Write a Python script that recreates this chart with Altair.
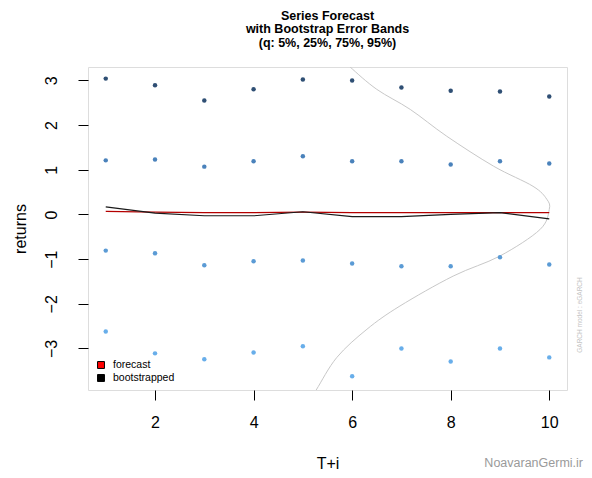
import altair as alt
import pandas as pd

# ---- data ----
steps = [1, 2, 3, 4, 5, 6, 7, 8, 9, 10]
q95 = [3.04, 2.89, 2.55, 2.80, 3.02, 3.00, 2.84, 2.77, 2.75, 2.64]
q75 = [1.21, 1.23, 1.07, 1.19, 1.30, 1.19, 1.19, 1.12, 1.19, 1.14]
q25 = [-0.81, -0.87, -1.14, -1.05, -1.03, -1.10, -1.16, -1.16, -0.96, -1.12]
q05 = [-2.62, -3.11, -3.24, -3.09, -2.95, -3.62, -3.00, -3.29, -3.00, -3.20]
forecast = [0.07, 0.05, 0.04, 0.04, 0.05, 0.04, 0.04, 0.04, 0.04, 0.04]
bootstrapped = [0.17, 0.03, -0.03, -0.03, 0.06, -0.05, -0.05, 0.00, 0.04, -0.10]

dens_y = [-4.3, -3.93, -3.2, -2.57, -2.05, -1.38, -0.93, -0.34, 0.11, 0.34, 0.63, 1.08, 1.75, 2.35, 2.80, 3.30, 3.6]
dens_x = [5.05, 5.27, 5.69, 6.30, 6.97, 8.05, 9.00, 9.81, 10.0, 9.95, 9.67, 8.87, 7.92, 7.18, 6.50, 5.96, 5.7]

quant_names = ["q95", "q75", "q25", "q05"]
quant_colors = ["#2f4f74", "#4a82bb", "#5b9bd5", "#68aeea"]
series_names = ["forecast", "bootstrapped"]
series_line_colors = ["#b40000", "#1a1a1a"]
series_legend_fills = ["#ff0000", "#000000"]

title_lines = ["Series Forecast", "with Bootstrap Error Bands", "(q: 5%, 25%, 75%, 95%)"]

# ---- tables ----
qdf = pd.DataFrame(
    [{"t": t, "v": v, "q": name}
     for name, vals in zip(quant_names, [q95, q75, q25, q05])
     for t, v in zip(steps, vals)]
)
sdf = pd.DataFrame(
    [{"t": t, "v": v, "s": name}
     for name, vals in zip(series_names, [forecast, bootstrapped])
     for t, v in zip(steps, vals)]
)
ddf = pd.DataFrame({"dx": dens_x, "dy": dens_y, "i": list(range(len(dens_x)))})

W, H = 479, 323
xs = alt.Scale(domain=[0.64, 10.36], nice=False, zero=False)
ys = alt.Scale(domain=[-3.93, 3.30], nice=False, zero=False)

FONT = "Liberation Sans"

xaxis = alt.Axis(values=[2, 4, 6, 8, 10], title="T+i", grid=False, domain=False,
                 tickSize=10, tickColor="#000", tickWidth=1, labelPadding=14,
                 labelFontSize=16, labelFont=FONT, labelColor="#000",
                 titleFontSize=16, titleFont=FONT, titleFontWeight="normal",
                 titleColor="#000", titlePadding=25, labelFlush=False)
yaxis = alt.Axis(values=[-3, -2, -1, 0, 1, 2, 3], title="returns", grid=False, domain=False,
                 tickSize=10, tickColor="#000", tickWidth=1, labelPadding=22,
                 labelAngle=270, labelAlign="center", labelBaseline="alphabetic",
                 labelFontSize=16, labelFont=FONT, labelColor="#000",
                 titleFontSize=16, titleFont=FONT, titleFontWeight="normal",
                 titleColor="#000", titlePadding=15, labelFlush=False)

density = alt.Chart(ddf).mark_line(color="#c8c8c8", strokeWidth=1, clip=True,
                                   interpolate="cardinal").encode(
    x=alt.X("dx:Q", scale=xs, axis=xaxis),
    y=alt.Y("dy:Q", scale=ys, axis=yaxis),
    order="i:O",
)

points = alt.Chart(qdf).mark_circle(size=20, opacity=1).encode(
    x=alt.X("t:Q", scale=xs),
    y=alt.Y("v:Q", scale=ys),
    color=alt.Color("q:N", scale=alt.Scale(domain=quant_names, range=quant_colors), legend=None),
)

lines = alt.Chart(sdf).mark_line(strokeWidth=1.2).encode(
    x=alt.X("t:Q", scale=xs),
    y=alt.Y("v:Q", scale=ys),
    stroke=alt.Stroke("s:N", scale=alt.Scale(domain=series_names, range=series_line_colors),
                      legend=None),
)

# manual legend (bottom-left inside the plot)
legend_layers = []
for k, (name, fillc) in enumerate(zip(series_names, series_legend_fills)):
    one = pd.DataFrame({"s": [name]})
    legend_layers.append(
        alt.Chart(one).mark_square(size=48, color=fillc, stroke="#000", strokeWidth=1,
                                   opacity=1).encode(
            x=alt.value(13), y=alt.value(298 + 13 * k))
    )
    legend_layers.append(
        alt.Chart(one).mark_text(fontSize=10.5, font=FONT, color="#000", align="left",
                                 baseline="middle").encode(
            x=alt.value(25), y=alt.value(298 + 13 * k), text="s:N")
    )

side_text = alt.Chart(pd.DataFrame({"txt": ["GARCH model : eGARCH"]})).mark_text(
    angle=270, fontSize=6.5, font=FONT, color="#c4c4c4", align="center", baseline="middle"
).encode(x=alt.value(W + 13), y=alt.value(248), text="txt:N")

watermark = alt.Chart(pd.DataFrame({"txt": ["NoavaranGermi.ir"]})).mark_text(
    fontSize=12.5, font=FONT, color="#9a9a9a", align="right", baseline="middle"
).encode(x=alt.value(W + 16), y=alt.value(396), text="txt:N")

chart = alt.layer(density, points, lines, *legend_layers, side_text, watermark).properties(
    width=W, height=H,
    title=alt.TitleParams(text=title_lines, fontSize=12.5, font=FONT, fontWeight="bold",
                          color="#000", anchor="middle", frame="group", offset=18,
                          lineHeight=13.5),
    autosize=alt.AutoSizeParams(type="none"),
    padding={"left": 80, "top": 59, "right": 17, "bottom": 84},
).configure_view(stroke="#000", strokeWidth=1).configure(background="white")

chart.save("out.html", embed_options={"renderer": "svg", "actions": False})
